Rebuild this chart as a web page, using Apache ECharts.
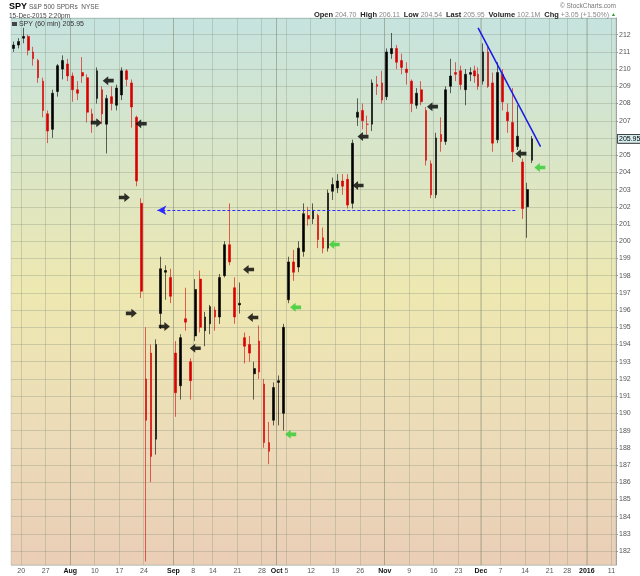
<!DOCTYPE html>
<html>
<head>
<meta charset="utf-8">
<title>SPY 60 min</title>
<script src="https://cdn.jsdelivr.net/npm/echarts@6/dist/echarts.min.js"></script>
<style>
  html, body { margin: 0; padding: 0; background: #fff; }
  #main { width: 640px; height: 576px; }
</style>
</head>
<body>
<div id="main"></div>
<script>
// SPY, 60-min chart Jul 16 - Dec 15 2015. One candle per session.
const open = [
    211.2, 211.4, 211.8, 211.9, 211.0, 210.5, 209.3, 207.4, 206.5, 208.7, 210.0, 210.3,
    209.6, 208.8, 209.8, 209.5, 207.4, 208.3, 208.8, 206.8, 208.4, 207.9,
    208.5, 209.9, 209.2, 207.2, 202.2, 192.0, 193.5, 188.5, 195.8, 198.2,
    197.9, 193.5, 191.6, 195.5, 193.0, 194.5, 197.8, 194.8, 195.2,
    196.0, 195.6, 198.0, 199.8, 197.3, 196.3, 194.4, 194.0, 192.3, 194.2,
    191.7, 188.3, 189.6, 191.8, 190.0, 196.6, 198.8, 198.5, 199.4, 201.5,
    201.3, 201.5, 200.2, 199.6, 202.9, 203.1, 203.5, 203.6, 202.2, 207.2,
    207.6, 206.8, 206.8, 209.1, 209.2, 208.4, 210.9, 211.2, 210.5, 210.0,
    209.3, 207.9, 208.8, 207.6, 204.5, 202.7, 206.2, 205.8, 209.0, 209.8,
    209.9, 208.8, 209.7, 209.9, 209.7, 209.3, 211.0, 209.2, 205.9,
    209.7, 207.5, 206.9, 205.5, 204.6, 202.0, 204.70
];
const high = [
    211.6, 211.8, 212.4, 212.0, 211.3, 210.6, 209.5, 207.6, 208.8, 210.3, 210.8, 210.6,
    209.8, 209.3, 210.7, 209.7, 207.7, 210.1, 209.0, 208.5, 209.0, 209.1,
    210.1, 210.0, 209.4, 207.3, 202.5, 195.0, 194.0, 194.3, 199.1, 198.6,
    198.4, 194.2, 194.6, 197.3, 193.2, 197.8, 198.3, 195.9, 196.3,
    196.2, 198.1, 200.0, 202.2, 197.9, 197.6, 194.7, 194.5, 193.0, 195.1,
    192.0, 189.5, 191.8, 192.2, 195.2, 199.1, 199.5, 200.0, 202.2, 202.0,
    202.2, 201.6, 200.8, 203.0, 203.7, 203.9, 203.9, 203.9, 205.9, 208.3,
    208.0, 207.3, 209.4, 209.6, 209.9, 211.2, 212.1, 211.4, 210.9, 210.4,
    209.4, 208.9, 209.3, 207.8, 204.7, 206.3, 207.2, 209.0, 210.6, 210.4,
    210.2, 210.0, 210.1, 210.2, 210.1, 211.5, 211.3, 209.8, 210.4,
    210.0, 208.0, 208.9, 207.9, 204.8, 203.4, 206.11
];
const low = [
    211.0, 211.2, 211.5, 210.8, 210.2, 209.2, 207.2, 205.7, 206.0, 208.4, 209.4, 209.3,
    208.1, 208.2, 209.2, 206.9, 206.3, 208.0, 206.8, 205.1, 207.6, 207.6,
    208.2, 209.0, 206.6, 203.2, 196.7, 181.4, 186.0, 187.6, 194.9, 196.6,
    196.4, 189.8, 190.8, 194.8, 190.8, 194.2, 194.7, 193.9, 194.6,
    194.8, 195.2, 197.9, 198.6, 195.2, 195.8, 192.9, 193.0, 190.8, 192.0,
    188.0, 187.05, 189.3, 189.3, 189.0, 196.4, 197.7, 198.2, 199.1, 200.9,
    201.0, 199.6, 199.3, 199.4, 202.4, 202.8, 202.7, 201.9, 201.9, 206.7,
    206.5, 206.2, 206.4, 208.5, 208.0, 208.2, 210.6, 210.0, 209.7, 209.1,
    207.5, 207.7, 207.9, 204.4, 202.5, 202.5, 205.2, 205.6, 208.6, 209.3,
    208.8, 207.9, 209.3, 209.2, 208.8, 209.1, 208.9, 205.2, 205.7,
    207.6, 206.3, 204.6, 205.3, 201.3, 200.2, 204.54
];
const close = [
    211.4, 211.6, 211.9, 211.1, 210.6, 209.5, 207.6, 206.4, 208.6, 210.2, 210.5, 209.6,
    208.8, 208.6, 209.6, 207.5, 207.0, 209.9, 207.4, 208.3, 208.0, 208.9,
    209.9, 209.4, 207.8, 203.5, 197.1, 189.6, 187.5, 194.0, 198.4, 198.3,
    196.8, 191.2, 194.4, 195.3, 191.9, 197.2, 195.0, 195.6, 196.2,
    195.6, 197.9, 199.8, 198.8, 195.6, 196.4, 193.9, 193.5, 192.6, 192.4,
    188.3, 187.8, 191.5, 191.9, 195.0, 198.8, 198.2, 199.6, 201.6, 201.3,
    201.8, 200.1, 199.6, 202.8, 203.3, 203.5, 203.2, 202.1, 205.7, 207.5,
    207.0, 206.8, 209.2, 209.0, 208.2, 211.0, 211.2, 210.4, 210.1, 209.8,
    208.0, 208.6, 208.1, 204.7, 202.7, 206.0, 205.8, 208.8, 209.6, 209.7,
    209.1, 209.7, 209.8, 209.6, 209.0, 211.0, 209.0, 205.7, 209.8,
    208.1, 207.0, 205.2, 206.1, 201.9, 203.0, 205.95
];

// hourly bar slots in a session, market holidays and half sessions
const hours = ['09:30', '10:30', '11:30', '12:30', '13:30', '14:30', '15:30'];
const holidays = ['2015-09-07', '2015-11-26', '2015-12-25', '2016-01-01'];
const halfDays = ['2015-11-27', '2015-12-24'];

// date axis ticks
const tickDays = ['2015-07-20', '2015-07-27', '2015-08-03', '2015-08-10', '2015-08-17', '2015-08-24',
    '2015-09-01', '2015-09-08', '2015-09-14', '2015-09-21', '2015-09-28', '2015-10-01', '2015-10-05',
    '2015-10-12', '2015-10-19', '2015-10-26', '2015-11-02', '2015-11-09', '2015-11-16', '2015-11-23',
    '2015-12-01', '2015-12-07', '2015-12-14', '2015-12-21', '2015-12-28', '2016-01-04', '2016-01-11'];
const tickText = ['20', '27', 'Aug', '10', '17', '24', 'Sep', '8', '14', '21', '28', 'Oct', '5',
    '12', '19', '26', 'Nov', '9', '16', '23', 'Dec', '7', '14', '21', '28', '2016', '11'];
const monthStarts = ['2015-08-03', '2015-09-01', '2015-10-01', '2015-11-02', '2015-12-01', '2016-01-04'];

// annotations: [session, hour slot, price, direction]
const blackArrows = [
    ['2015-08-12', 5, 209.33, 'L'], ['2015-08-10', 2, 206.89, 'R'], ['2015-08-21', 3, 206.83, 'L'],
    ['2015-08-18', 0, 202.54, 'R'], ['2015-08-19', 3, 195.81, 'R'], ['2015-08-28', 1, 195.05, 'R'],
    ['2015-09-08', 3, 193.78, 'L'], ['2015-09-23', 2, 198.36, 'L'], ['2015-09-24', 1, 195.57, 'L'],
    ['2015-10-26', 4, 206.08, 'L'], ['2015-10-23', 4, 203.24, 'L'], ['2015-11-13', 5, 207.82, 'L'],
    ['2015-12-11', 1, 205.09, 'L']
];
const greenArrows = [
    ['2015-10-16', 5, 199.81, 'L'], ['2015-10-06', 6, 196.16, 'L'],
    ['2015-10-05', 6, 188.78, 'L'], ['2015-12-17', 0, 204.28, 'L']
];
const breakLevel = 201.8;
const breakFrom = ['2015-08-26', 5];
const breakTo = ['2015-12-10', 3];
const trendFrom = ['2015-11-30', 3, 212.4];
const trendTo = ['2015-12-17', 1, 205.5];
const lastPrice = 205.95;

function tradingDays(from, to) {
    const out = [];
    const d = new Date(from + 'T00:00:00Z');
    const end = new Date(to + 'T00:00:00Z');
    while (d <= end) {
        const wd = d.getUTCDay();
        const s = d.toISOString().slice(0, 10);
        if (wd !== 0 && wd !== 6 && !holidays.includes(s)) out.push(s);
        d.setUTCDate(d.getUTCDate() + 1);
    }
    return out;
}

const days = tradingDays('2015-07-16', '2016-01-11');
const categories = [];
const firstSlot = {};
days.forEach(d => {
    firstSlot[d] = categories.length;
    const n = halfDays.includes(d) ? 4 : 7;
    for (let s = 0; s < n; s++) categories.push(d + ' ' + hours[s]);
});
const slot = (d, s) => categories[firstSlot[d] + s];

const candles = categories.map(() => '-');
close.forEach((c, i) => {
    const d = days[i];
    const n = halfDays.includes(d) ? 4 : 7;
    candles[firstSlot[d] + Math.floor(n / 2)] = [open[i], c, low[i], high[i]];
});

const tickLabel = {};
tickDays.forEach((d, i) => { tickLabel[firstSlot[d]] = tickText[i]; });
const isTick = i => tickLabel[i] !== undefined;

const arrowPath = 'path://M0,3L5,3L5,0L10,5L5,10L5,7L0,7Z';
const arrowData = list => list.map(a => ({
    value: [slot(a[0], a[1]), a[2]],
    symbolRotate: a[3] === 'L' ? 180 : 0
}));

const gridLine = 'rgba(135,145,125,0.33)';
// small header text, also used for the plain gaps between rich tokens
const small = {fontSize: 7, lineHeight: 8, fontWeight: 'normal', color: '#444'};

const option = {
    animation: false,
    backgroundColor: '#fff',
    textStyle: {fontFamily: 'Liberation Sans, Arial, sans-serif'},
    title: [
        {
            left: 9, top: 2, padding: 0,
            text: '{t|SPY} {s|S&P 500 SPDRs  NYSE}',
            textStyle: Object.assign({}, small, {lineHeight: 10, rich: {
                t: {fontSize: 9, lineHeight: 10, fontWeight: 'bold', color: '#000'},
                s: {fontSize: 6.5, lineHeight: 10, color: '#555'}
            }})
        },
        {
            left: 9, top: 12, padding: 0,
            text: '15-Dec-2015 2:20pm',
            textStyle: Object.assign({}, small, {fontSize: 6.5})
        },
        {
            right: 24, top: 2, padding: 0,
            text: '© StockCharts.com',
            textStyle: Object.assign({}, small, {fontSize: 6.5, color: '#777'})
        },
        {
            right: 24, top: 11, padding: 0,
            text: '{k|Open} {v|204.70}  {k|High} {v|206.11}  {k|Low} {v|204.54}  {k|Last} {v|205.95}  ' +
                '{k|Volume} {v|102.1M}  {k|Chg} {v|+3.05 (+1.50%)} {g|▲}',
            textStyle: Object.assign({}, small, {rich: {
                k: {fontSize: 7.5, lineHeight: 8, fontWeight: 'bold', color: '#222'},
                v: {fontSize: 7, lineHeight: 8, color: '#888'},
                g: {fontSize: 5, lineHeight: 8, color: '#2a9a2a'}
            }})
        },
        {
            left: 12, top: 20, padding: 0,
            text: '{i|} {s|SPY (60 min) 205.95}',
            textStyle: Object.assign({}, small, {rich: {
                i: {width: 5, height: 4, lineHeight: 8, backgroundColor: '#444'},
                s: {fontSize: 7, lineHeight: 8, color: '#333'}
            }})
        }
    ],
    grid: {
        left: 11, right: 24, top: 18, bottom: 11,
        show: true,
        borderWidth: 0.5,
        borderColor: 'rgba(110,150,150,0.5)',
        backgroundColor: new echarts.graphic.LinearGradient(0, 0, 0, 1, [
            {offset: 0, color: '#c6e3df'},
            {offset: 0.3, color: '#dde6c3'},
            {offset: 0.5, color: '#eee8b1'},
            {offset: 0.75, color: '#ecdcb8'},
            {offset: 1, color: '#eaceb6'}
        ])
    },
    xAxis: {
        type: 'category',
        data: categories,
        boundaryGap: true,
        axisLine: {show: false},
        axisTick: {show: false},
        axisLabel: {
            interval: isTick,
            margin: 3,
            formatter: (v, i) => {
                const t = tickLabel[i];
                if (t === undefined) return '';
                return /^\d{1,2}$/.test(t) ? '{n|' + t + '}' : '{b|' + t + '}';
            },
            rich: {
                n: {fontSize: 7, color: '#555'},
                b: {fontSize: 7, fontWeight: 'bold', color: '#111'}
            }
        },
        splitLine: {show: true, interval: isTick, lineStyle: {color: gridLine, width: 1}}
    },
    yAxis: {
        type: 'value',
        position: 'right',
        min: 181.19,
        max: 212.97,
        splitNumber: 31,
        minInterval: 1,
        maxInterval: 1,
        axisLine: {show: true, lineStyle: {color: '#999', type: 'dotted'}},
        axisTick: {show: true, length: 2, lineStyle: {color: '#999'}},
        axisLabel: {
            showMinLabel: false,
            showMaxLabel: false,
            fontSize: 7,
            color: '#555',
            margin: 3,
            formatter: v => (v === 206 ? '' : v)
        },
        splitLine: {lineStyle: {color: gridLine, width: 1}}
    },
    series: [
        {
            name: 'SPY',
            type: 'candlestick',
            large: false,
            data: candles,
            barWidth: 2.2,
            itemStyle: {
                color: '#000', color0: '#d80000',
                borderColor: '#000', borderColor0: '#d80000',
                borderWidth: 0.6
            },
            markLine: {
                silent: true,
                animation: false,
                symbol: 'none',
                label: {show: false},
                data: [
                    ...monthStarts.map(d => ({
                        xAxis: slot(d, 0),
                        lineStyle: {color: 'rgba(115,115,95,0.3)', width: 1, type: 'solid'}
                    })),
                    [
                        {
                            coord: [slot(breakFrom[0], breakFrom[1]), breakLevel],
                            symbol: 'arrow', symbolSize: [7, 9],
                            lineStyle: {color: '#2b2bff', type: [3, 2], width: 1.2}
                        },
                        {coord: [slot(breakTo[0], breakTo[1]), breakLevel], symbol: 'none'}
                    ],
                    [
                        {
                            coord: [slot(trendFrom[0], trendFrom[1]), trendFrom[2]],
                            lineStyle: {color: '#1818e8', type: 'solid', width: 1.5}
                        },
                        {coord: [slot(trendTo[0], trendTo[1]), trendTo[2]]}
                    ],
                    {
                        yAxis: lastPrice,
                        lineStyle: {color: 'rgba(0,0,0,0)', width: 0},
                        label: {
                            show: true,
                            position: 'end',
                            distance: 2,
                            formatter: '205.95',
                            fontSize: 7,
                            color: '#000',
                            backgroundColor: '#d6eef0',
                            borderColor: '#222',
                            borderWidth: 0.8,
                            padding: [1, 1, 0, 1]
                        }
                    }
                ]
            }
        },
        {
            name: 'sell',
            type: 'scatter',
            data: arrowData(blackArrows),
            symbol: arrowPath,
            symbolSize: [11, 9],
            itemStyle: {color: '#000'},
            silent: true,
            z: 5
        },
        {
            name: 'buy',
            type: 'scatter',
            data: arrowData(greenArrows),
            symbol: arrowPath,
            symbolSize: [11, 9],
            itemStyle: {color: '#2ecc2e'},
            silent: true,
            z: 5
        }
    ]
};

const myChart = echarts.init(document.getElementById('main'));
myChart.setOption(option);
</script>
</body>
</html>
